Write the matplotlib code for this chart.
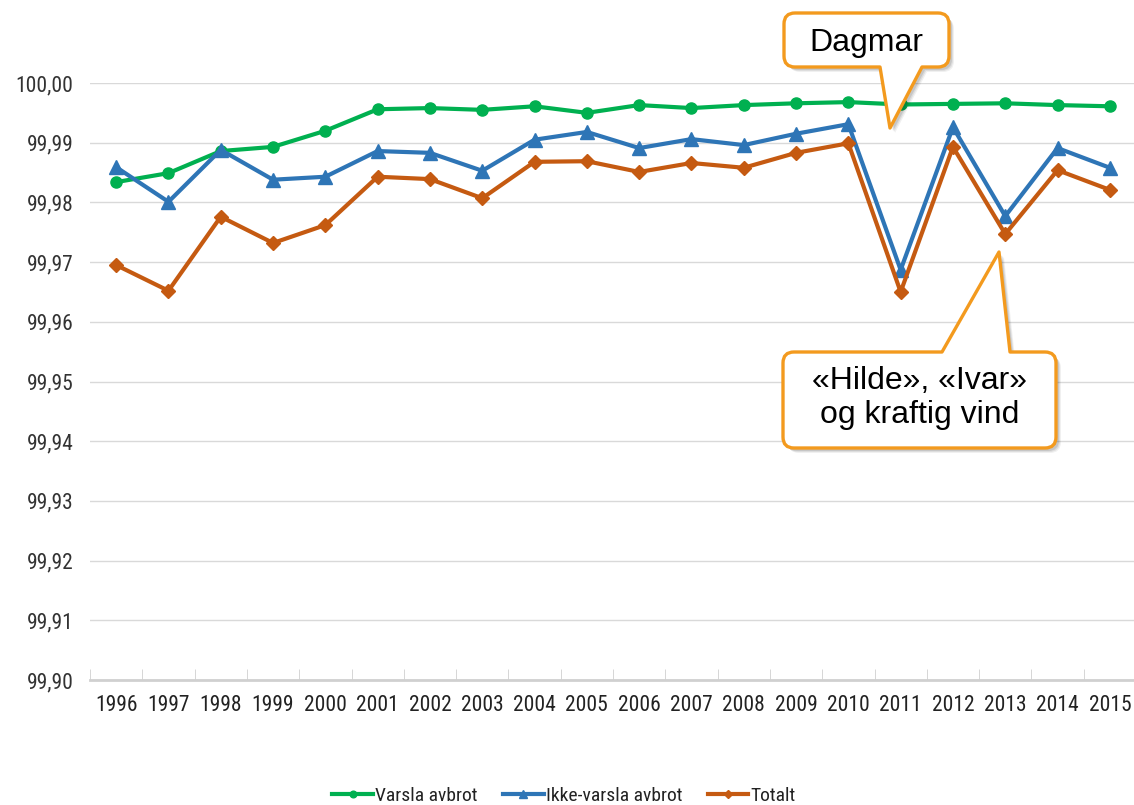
import matplotlib
matplotlib.use("Agg")
import matplotlib.pyplot as plt
import matplotlib.transforms as mtransforms
from matplotlib import font_manager
from matplotlib.path import Path
from matplotlib.patches import PathPatch
from matplotlib.ticker import FixedLocator, FuncFormatter

W, H = 1134, 805

years = [str(y) for y in range(1996, 2016)]
varsla = [99.9834, 99.9849, 99.9886, 99.9893, 99.9920, 99.9956, 99.9958, 99.9955,
          99.9961, 99.9950, 99.9963, 99.9958, 99.9963, 99.9966, 99.9968, 99.9964,
          99.9965, 99.9966, 99.9963, 99.9961]
ikke_varsla = [99.9859, 99.9801, 99.9888, 99.9838, 99.9843, 99.9886, 99.9883, 99.9853,
               99.9905, 99.9918, 99.9891, 99.9906, 99.9896, 99.9915, 99.9931, 99.9687,
               99.9926, 99.9777, 99.9891, 99.9858]
totalt = [99.9695, 99.9652, 99.9776, 99.9732, 99.9762, 99.9843, 99.9839, 99.9807,
          99.9868, 99.9869, 99.9851, 99.9866, 99.9858, 99.9883, 99.9899, 99.9650,
          99.9893, 99.9747, 99.9854, 99.9821]
series_names = ["Varsla avbrot", "Ikke-varsla avbrot", "Totalt"]
y_ticks = [99.90 + 0.01 * i for i in range(11)]


def pick_font(*names):
    for name in names:
        try:
            font_manager.findfont(font_manager.FontProperties(family=name),
                                  fallback_to_default=False)
            return name
        except ValueError:
            continue
    return "DejaVu Sans"


NARROW = [pick_font("Liberation Sans Narrow", "Roboto Condensed", "DejaVu Sans Condensed",
                    "Liberation Sans"), "DejaVu Sans"]
ARIAL = ["Liberation Sans", "DejaVu Sans"]
ORANGE = "#F39A1E"

fig = plt.figure(figsize=(W / 100, H / 100), dpi=100)
ax = fig.add_axes([90 / W, 1 - 680 / H, (1136 - 90) / W, (680 - 83) / H])

x = range(len(years))
ax.plot(x, varsla, color="#00B050", lw=3, marker="o", ms=8,
        label=series_names[0], zorder=3)
ax.plot(x, ikke_varsla, color="#2E75B6", lw=3, marker="^", ms=10.5,
        label=series_names[1], zorder=4)
ax.plot(x, totalt, color="#C55A11", lw=3, marker="D", ms=7.5,
        label=series_names[2], zorder=5)

ax.set_xlim(-0.5, len(years) - 0.5)
ax.set_ylim(99.90, 100.00)
ax.yaxis.set_major_locator(FixedLocator(y_ticks))
ax.yaxis.set_major_formatter(FuncFormatter(lambda v, _: f"{v:.2f}".replace(".", ",")))
ax.set_xticks(list(x))
ax.set_xticklabels(years, family=NARROW, fontsize=15.5, color="#222222")
ax.set_xticks([i + 0.5 for i in range(-1, len(years))], minor=True)
ax.tick_params(axis="x", which="major", length=0, pad=11)
ax.tick_params(axis="x", which="minor", length=8, direction="in", color="#D0D0D0")
ax.tick_params(axis="y", length=0, pad=12, labelsize=15.5, labelcolor="#333333")
for lab in ax.get_yticklabels():
    lab.set_family(NARROW)
ax.grid(axis="y", color="#D9D9D9", lw=1)
ax.set_axisbelow(True)
for side in ("top", "right", "left"):
    ax.spines[side].set_visible(False)
ax.spines["bottom"].set_color("#D0D0D0")
ax.spines["bottom"].set_linewidth(2)
ax.spines["bottom"].set_zorder(1)

leg = fig.legend(loc="center", bbox_to_anchor=(564 / W, 1 - 796 / H), ncol=3,
                 frameon=False, handlelength=2.1, columnspacing=1.3, handletextpad=0.1,
                 markerscale=0.6, prop={"family": NARROW, "size": 14})
for t in leg.get_texts():
    t.set_color("#222222")

# callout shapes are laid out in pixel coordinates (origin top-left)
px = mtransforms.Affine2D().scale(1 / W, -1 / H).translate(0, 1) + fig.transFigure


def callout_path(x0, y0, x1, y1, tail, r=11):
    """Rounded box with a pointer; tail = (edge, base_left, base_right, tip)."""
    edge, bl, br, tip = tail
    verts = [(x0 + r, y0)]
    codes = [Path.MOVETO]
    if edge == "top":
        verts += [(bl, y0), tip, (br, y0)]
        codes += [Path.LINETO] * 3
    verts += [(x1 - r, y0), (x1, y0), (x1, y0 + r), (x1, y1 - r), (x1, y1), (x1 - r, y1)]
    codes += [Path.LINETO, Path.CURVE3, Path.CURVE3, Path.LINETO, Path.CURVE3, Path.CURVE3]
    if edge == "bottom":
        verts += [(br, y1), tip, (bl, y1)]
        codes += [Path.LINETO] * 3
    verts += [(x0 + r, y1), (x0, y1), (x0, y1 - r), (x0, y0 + r), (x0, y0), (x0 + r, y0),
              (x0 + r, y0)]
    codes += [Path.LINETO, Path.CURVE3, Path.CURVE3, Path.LINETO, Path.CURVE3, Path.CURVE3,
              Path.CLOSEPOLY]
    return Path(verts, codes)


def draw_callout(path, text, cx, cy):
    for off, alpha in ((5, 0.06), (4, 0.08), (3, 0.1)):
        shadow = PathPatch(path, transform=mtransforms.Affine2D().translate(off, off) + px,
                           facecolor="#000000", edgecolor="none", alpha=alpha, zorder=9)
        fig.add_artist(shadow)
    box = PathPatch(path, transform=px, facecolor="white", edgecolor=ORANGE,
                    lw=2.4, joinstyle="round", zorder=10)
    fig.add_artist(box)
    fig.text(cx / W, 1 - cy / H, text, ha="center", va="center", family=ARIAL,
             fontsize=23, color="black", linespacing=1.2, zorder=11)


draw_callout(callout_path(784, 13, 949, 67, ("bottom", 880, 922, (890, 128))),
             "Dagmar", 866, 43)
draw_callout(callout_path(783, 352, 1056, 448, ("top", 942, 1010, (999, 252))),
             "«Hilde», «Ivar»\nog kraftig vind", 920, 398)

fig.savefig("out.png", dpi=100, facecolor="white")
